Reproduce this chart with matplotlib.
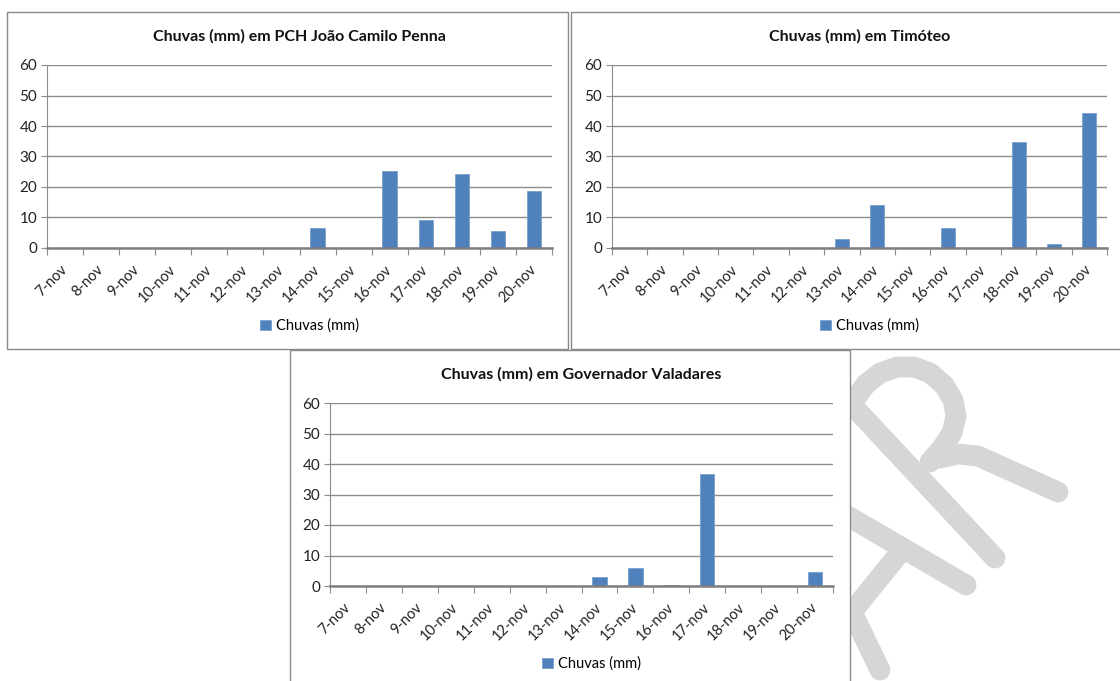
import matplotlib.pyplot as plt
from matplotlib.patches import Rectangle

plt.rcParams['font.family'] = ['Lato', 'DejaVu Sans']

# rainfall per day (mm), 7-nov to 20-nov
dias = ['7-nov', '8-nov', '9-nov', '10-nov', '11-nov', '12-nov', '13-nov',
        '14-nov', '15-nov', '16-nov', '17-nov', '18-nov', '19-nov', '20-nov']
chuva_pch = [0, 0, 0, 0, 0, 0, 0, 6.4, 0, 25.3, 9.3, 24.2, 5.7, 18.8]
chuva_timoteo = [0, 0, 0, 0, 0, 0, 2.8, 14.0, 0, 6.5, 0, 34.6, 1.3, 44.2]
chuva_gv = [0, 0, 0, 0, 0, 0, 0, 3.1, 5.8, 0.4, 36.6, 0, 0, 4.7]

titulos = ['Chuvas (mm) em PCH João Camilo Penna',
           'Chuvas (mm) em Timóteo',
           'Chuvas (mm) em Governador Valadares']

W, H = 1120, 681
fig = plt.figure(figsize=(W / 100, H / 100), dpi=100)

# page layer: watermark strokes and chart frames, in pixel coordinates
bg = fig.add_axes([0, 0, 1, 1], zorder=0)
bg.set_xlim(0, W)
bg.set_ylim(H, 0)
bg.axis('off')

strokes = [
    [(852, 405), (995, 558)],
    [(856, 398), (866, 384), (880, 373), (897, 367), (914, 367), (930, 373),
     (944, 385), (953, 400), (956, 416), (952, 433), (942, 448), (930, 462)],
    [(940, 458), (958, 454), (978, 456), (1058, 492)],
    [(846, 515), (966, 585)],
    [(898, 555), (852, 612)],
    [(852, 612), (880, 670)],
]
for s in strokes:
    xs, ys = zip(*s)
    bg.plot(xs, ys, color='#d6d6d6', lw=15, solid_capstyle='round',
            solid_joinstyle='round', zorder=1)

frames = [(7, 12, 561, 337), (571, 12, 560, 337), (290, 350, 560, 340)]
for x0, y0, w, h in frames:
    bg.add_patch(Rectangle((x0, y0), w, h, facecolor='white',
                           edgecolor='#8a8a8a', lw=1.0, zorder=2))

# plot areas in pixels: left, right, top(60), bottom(0)
areas = [(47, 552, 65, 248), (612, 1107, 65, 248), (330, 833, 403, 586)]
series = [chuva_pch, chuva_timoteo, chuva_gv]
title_y = [36, 36, 374]
legend_y = [326, 326, 664]

x = range(len(dias))
for (l, r, t, b), vals, tit, ty, ly in zip(areas, series, titulos, title_y, legend_y):
    ax = fig.add_axes([l / W, 1 - b / H, (r - l) / W, (b - t) / H], zorder=3)
    ax.patch.set_alpha(0)
    ax.bar(x, vals, width=0.4, color='#4f81bd', edgecolor='#7aa0cf',
           lw=0.6, label='Chuvas (mm)', zorder=3)
    ax.set_xlim(-0.5, len(dias) - 0.5)
    ax.set_ylim(0, 60)
    ax.set_yticks(range(0, 61, 10))
    ax.yaxis.grid(True, color='#8c8c8c', lw=1.0)
    ax.set_axisbelow(True)
    for sp in ['top', 'right']:
        ax.spines[sp].set_visible(False)
    ax.spines['left'].set_color('#8c8c8c')
    ax.spines['bottom'].set_color('#7f7f7f')
    ax.spines['bottom'].set_linewidth(1.8)
    ax.spines['bottom'].set_zorder(4)
    # ticks sit between categories, labels at category centres
    ax.set_xticks([i - 0.5 for i in range(len(dias) + 1)])
    ax.set_xticklabels([])
    ax.tick_params(axis='x', which='major', length=5, color='#8c8c8c')
    ax.set_xticks(list(x), minor=True)
    ax.set_xticklabels(dias, minor=True, rotation=45, ha='right',
                       va='center', rotation_mode='anchor', fontsize=10.5,
                       color='#222222')
    ax.tick_params(axis='x', which='minor', length=0, pad=14)
    ax.tick_params(axis='y', length=4, color='#8c8c8c', labelsize=11,
                   labelcolor='#222222', pad=3)
    cx = (l + r) / 2
    fig.text(cx / W, 1 - ty / H, tit, ha='center', va='center',
             fontsize=11.5, fontweight='bold', color='#111111')
    ax.legend(loc='center', bbox_to_anchor=((cx + 10) / W, 1 - ly / H),
              bbox_transform=fig.transFigure, frameon=False, fontsize=10.5,
              handlelength=0.75, handleheight=0.75, handletextpad=0.3)

fig.savefig('out.png', dpi=100)
